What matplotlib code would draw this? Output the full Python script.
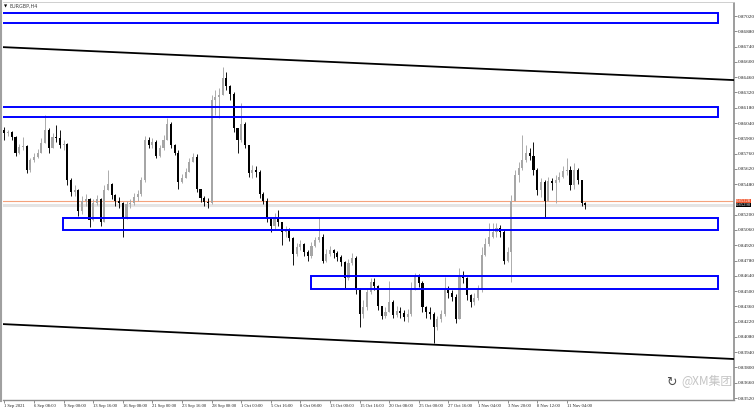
import numpy as np
import matplotlib
matplotlib.use("Agg")
import matplotlib.pyplot as plt

# EURGBP H4, one candle per two H4 bars
closes = [
    0.8595, 0.8596, 0.8591, 0.8577, 0.8582, 0.8583, 0.8561, 0.8570, 0.8573, 0.8577,
    0.8586, 0.8598, 0.8581, 0.8591, 0.8590, 0.8584, 0.8585, 0.8552, 0.8541, 0.8543,
    0.8523, 0.8533, 0.8534, 0.8515, 0.8531, 0.8534, 0.8513, 0.8543, 0.8548, 0.8538,
    0.8533, 0.8531, 0.8517, 0.8530, 0.8531, 0.8536, 0.8539, 0.8552, 0.8588, 0.8584,
    0.8587, 0.8574, 0.8581, 0.8588, 0.8603, 0.8584, 0.8577, 0.8550, 0.8554, 0.8559,
    0.8568, 0.8573, 0.8544, 0.8535, 0.8532, 0.8531, 0.8625, 0.8628, 0.8630, 0.8645,
    0.8638, 0.8631, 0.8599, 0.8588, 0.8603, 0.8584, 0.8558, 0.8561, 0.8559, 0.8539,
    0.8533, 0.8517, 0.8510, 0.8517, 0.8513, 0.8504, 0.8506, 0.8499, 0.8484, 0.8490,
    0.8493, 0.8486, 0.8482, 0.8491, 0.8497, 0.8500, 0.8478, 0.8484, 0.8488, 0.8485,
    0.8481, 0.8477, 0.8462, 0.8476, 0.8480, 0.8451, 0.8429, 0.8435, 0.8449, 0.8458,
    0.8455, 0.8436, 0.8427, 0.8431, 0.8440, 0.8428, 0.8432, 0.8430, 0.8426, 0.8429,
    0.8453, 0.8463, 0.8457, 0.8435, 0.8431, 0.8429, 0.8417, 0.8424, 0.8429, 0.8451,
    0.8448, 0.8445, 0.8424, 0.8463, 0.8462, 0.8446, 0.8440, 0.8444, 0.8452, 0.8483,
    0.8493, 0.8500, 0.8504, 0.8508, 0.8504, 0.8478, 0.8486, 0.8533, 0.8556, 0.8563,
    0.8570, 0.8577, 0.8574, 0.8561, 0.8543, 0.8550, 0.8533, 0.8551, 0.8549, 0.8552,
    0.8555, 0.8560, 0.8561, 0.8547, 0.8561, 0.8552, 0.8531, 0.8529,
]
highs = [
    0.8600, 0.8598, 0.8597, 0.8592, 0.8585, 0.8591, 0.8584, 0.8572, 0.8577, 0.8580,
    0.8590, 0.8611, 0.8599, 0.8595, 0.8602, 0.8598, 0.8588, 0.8586, 0.8554, 0.8547,
    0.8544, 0.8537, 0.8539, 0.8535, 0.8534, 0.8538, 0.8535, 0.8547, 0.8561, 0.8549,
    0.8539, 0.8536, 0.8532, 0.8533, 0.8534, 0.8540, 0.8543, 0.8555, 0.8592, 0.8591,
    0.8590, 0.8588, 0.8584, 0.8593, 0.8609, 0.8605, 0.8585, 0.8579, 0.8557, 0.8563,
    0.8572, 0.8577, 0.8576, 0.8544, 0.8537, 0.8535, 0.8630, 0.8634, 0.8636, 0.8655,
    0.8651, 0.8639, 0.8632, 0.8599, 0.8622, 0.8605, 0.8584, 0.8566, 0.8565, 0.8561,
    0.8541, 0.8535, 0.8517, 0.8522, 0.8524, 0.8513, 0.8510, 0.8508, 0.8500, 0.8494,
    0.8497, 0.8494, 0.8488, 0.8495, 0.8500, 0.8517, 0.8502, 0.8489, 0.8491, 0.8489,
    0.8487, 0.8483, 0.8478, 0.8479, 0.8485, 0.8482, 0.8453, 0.8442, 0.8453, 0.8462,
    0.8462, 0.8456, 0.8436, 0.8435, 0.8459, 0.8442, 0.8436, 0.8435, 0.8433, 0.8434,
    0.8458, 0.8467, 0.8466, 0.8459, 0.8436, 0.8435, 0.8431, 0.8427, 0.8433, 0.8463,
    0.8455, 0.8451, 0.8447, 0.8471, 0.8468, 0.8463, 0.8447, 0.8448, 0.8456, 0.8490,
    0.8499, 0.8512, 0.8512, 0.8512, 0.8511, 0.8506, 0.8490, 0.8538, 0.8561, 0.8568,
    0.8593, 0.8584, 0.8581, 0.8587, 0.8563, 0.8554, 0.8552, 0.8555, 0.8554, 0.8556,
    0.8559, 0.8565, 0.8572, 0.8565, 0.8567, 0.8563, 0.8552, 0.8532,
]
lows = [
    0.8588, 0.8592, 0.8588, 0.8574, 0.8576, 0.8579, 0.8558, 0.8559, 0.8568, 0.8572,
    0.8577, 0.8587, 0.8577, 0.8583, 0.8587, 0.8581, 0.8579, 0.8547, 0.8537, 0.8537,
    0.8519, 0.8521, 0.8528, 0.8509, 0.8514, 0.8529, 0.8510, 0.8513, 0.8543, 0.8534,
    0.8528, 0.8526, 0.8500, 0.8516, 0.8526, 0.8529, 0.8533, 0.8537, 0.8550, 0.8581,
    0.8581, 0.8572, 0.8573, 0.8579, 0.8588, 0.8581, 0.8575, 0.8544, 0.8549, 0.8554,
    0.8559, 0.8568, 0.8541, 0.8532, 0.8528, 0.8526, 0.8530, 0.8611, 0.8609, 0.8634,
    0.8634, 0.8625, 0.8596, 0.8577, 0.8587, 0.8581, 0.8555, 0.8554, 0.8555, 0.8535,
    0.8530, 0.8513, 0.8504, 0.8506, 0.8510, 0.8492, 0.8500, 0.8496, 0.8474, 0.8482,
    0.8488, 0.8482, 0.8478, 0.8480, 0.8490, 0.8495, 0.8476, 0.8477, 0.8482, 0.8480,
    0.8478, 0.8473, 0.8453, 0.8460, 0.8474, 0.8447, 0.8417, 0.8425, 0.8433, 0.8447,
    0.8451, 0.8433, 0.8424, 0.8425, 0.8435, 0.8425, 0.8426, 0.8425, 0.8423, 0.8422,
    0.8427, 0.8451, 0.8454, 0.8431, 0.8425, 0.8424, 0.8402, 0.8414, 0.8422, 0.8427,
    0.8444, 0.8441, 0.8421, 0.8424, 0.8457, 0.8442, 0.8435, 0.8437, 0.8442, 0.8449,
    0.8482, 0.8491, 0.8499, 0.8500, 0.8500, 0.8475, 0.8477, 0.8458, 0.8538, 0.8550,
    0.8561, 0.8568, 0.8570, 0.8556, 0.8538, 0.8536, 0.8518, 0.8533, 0.8543, 0.8531,
    0.8550, 0.8554, 0.8556, 0.8543, 0.8544, 0.8548, 0.8528, 0.8525,
]
first_open = 0.8598

time_labels = ["1 Sep 2021", "6 Sep 08:00", "9 Sep 00:00", "13 Sep 16:00", "16 Sep 08:00",
               "21 Sep 00:00", "23 Sep 16:00", "28 Sep 08:00", "1 Oct 00:00", "5 Oct 16:00",
               "8 Oct 08:00", "13 Oct 00:00", "15 Oct 16:00", "20 Oct 08:00", "25 Oct 00:00",
               "27 Oct 16:00", "1 Nov 04:00", "3 Nov 20:00", "8 Nov 12:00", "11 Nov 04:00"]
candles_per_label = 8

# 0.85340 is hidden behind the price tags in the screenshot
price_ticks = [0.87020, 0.86880, 0.86740, 0.86600, 0.86460, 0.86320, 0.86180, 0.86040,
               0.85900, 0.85760, 0.85620, 0.85480, 0.85200, 0.85060, 0.84920,
               0.84780, 0.84640, 0.84500, 0.84360, 0.84220, 0.84080, 0.83940, 0.83800,
               0.83660, 0.83520]

# rectangles: (left candle, right candle, top price, bottom price)
boxes = [(-5, 192.9, 0.87048, 0.86956),
         (-5, 192.9, 0.86187, 0.86095),
         (15.8, 192.9, 0.85170, 0.85060),
         (82.9, 192.9, 0.84638, 0.84519)]
# channel lines: two anchor points each (candle, price)
channel_up = [(-0.65, 0.86736), (196.9, 0.86434)]
channel_dn = [(-0.65, 0.84198), (196.9, 0.83878)]

ask_price = 0.85328
bid_price = 0.85290

W, H = 756, 411
fig = plt.figure(figsize=(W / 100, H / 100), dpi=100)
ax = fig.add_axes([2.5 / W, (H - 400) / H, (734 - 2.5) / W, 397 / H])

closes = np.array(closes)
highs = np.array(highs)
lows = np.array(lows)
opens = np.concatenate(([first_open], closes[:-1]))
idx = np.arange(len(closes))
up = closes >= opens
colors = np.where(up, "#a6a6a6", "#000000")
highs = np.maximum(highs, np.maximum(opens, closes))
lows = np.minimum(lows, np.minimum(opens, closes))

ax.vlines(idx, lows, highs, colors=colors, linewidth=0.65, zorder=3)
body_lo = np.minimum(opens, closes)
body_h = np.maximum(np.abs(closes - opens), 0.00004)
ax.bar(idx, body_h, bottom=body_lo, width=0.55, color=colors, linewidth=0, zorder=3)

# price lines
ax.axhline(bid_price, color="#e4e4e4", linewidth=2.2, zorder=1)
ax.axhline(ask_price, color="#f4a27c", linewidth=0.8, zorder=2)

# channel
for line in (channel_up, channel_dn):
    ax.axline(line[0], line[1], color="black", linewidth=1.3, zorder=4)

for x0, x1, top, bot in boxes:
    ax.add_patch(plt.Rectangle((x0, bot), x1 - x0, top - bot, fill=False,
                               edgecolor="#0000ff", linewidth=1.4, zorder=5))

ax.set_xlim(-0.514, 197.19)
ax.set_ylim(0.83502, 0.87140)

for s in ("left", "top"):
    ax.spines[s].set_visible(False)
ax.spines["right"].set_color("#8c8c8c")
ax.spines["bottom"].set_color("#8c8c8c")
ax.spines["right"].set_linewidth(1.2)
ax.spines["bottom"].set_linewidth(1.0)

small = "Liberation Serif"

ax.yaxis.tick_right()
ax.set_yticks(price_ticks)
ax.set_yticklabels([f"{p:.5f}" for p in price_ticks], family=small)
ax.tick_params(axis="y", direction="out", length=2, width=0.5, color="#606060",
               labelsize=3.7, pad=1, labelcolor="#202020")

tick_pos = [candles_per_label * j for j in range(len(time_labels))]
ax.set_xticks(tick_pos)
ax.set_xticklabels(time_labels, ha="left", family=small)
ax.tick_params(axis="x", direction="out", length=2, width=0.5, color="#606060",
               labelsize=3.3, pad=1, labelcolor="#202020")

# price tags on the right axis (ask tag sits just above the bid tag)
tags = [(ask_price, "#f0532a", "bottom"), (bid_price, "#000000", "top")]
for price, face, va in tags:
    ax.text(1.0025, (ask_price + bid_price) / 2, f"{price:.5f}", transform=ax.get_yaxis_transform(),
            fontsize=3.4, family=small, color="white", va=va, ha="left",
            bbox=dict(boxstyle="square,pad=0.03", facecolor=face, edgecolor="none"),
            zorder=10, clip_on=False)

# window frame
fig.add_artist(plt.Line2D([1 / W, 1 / W], [(H - 401) / H, 1], color="#a0a0a0", linewidth=1.5))
fig.add_artist(plt.Line2D([2.5 / W, 734 / W], [1 - 2.5 / H, 1 - 2.5 / H], color="#c8c8c8", linewidth=0.6))

# title
fig.text(4 / W, 1 - 6 / H, "\u25bc", fontsize=3, color="black", va="center", ha="left")
fig.text(9 / W, 1 - 6 / H, "EURGBP,H4", fontsize=3.5, color="#404040", va="center", ha="left")

# watermark
fig.text(666 / W, 1 - 382 / H, "\u21bb", fontsize=9, color="#505050", va="center", ha="left")
fig.text(681 / W, 1 - 382 / H, "@XM集团", fontsize=8.5, color="#c4c4c4", va="center", ha="left",
         family=["Noto Sans CJK SC", "DejaVu Sans"], zorder=20)

fig.savefig("out.png", dpi=100)
